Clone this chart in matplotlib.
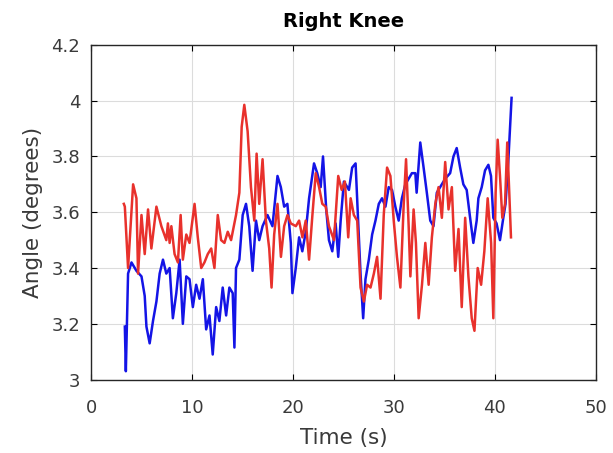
import matplotlib
matplotlib.use("Agg")
import matplotlib.pyplot as plt

# right knee angle traces
blue_t = [3.32, 3.42, 3.64, 3.98, 4.47, 4.97, 5.29, 5.46, 5.78, 6.11, 6.45, 6.77,
          7.10, 7.43, 7.76, 8.08, 8.42, 8.75, 9.07, 9.41, 9.73, 10.06, 10.39, 10.72,
          11.05, 11.38, 11.71, 12.03, 12.37, 12.69, 13.02, 13.36, 13.68, 14.01, 14.18,
          14.34, 14.67, 15.00, 15.33, 15.65, 15.98, 16.32, 16.64, 16.97, 17.46, 17.95,
          18.45, 18.78, 19.11, 19.43, 19.77, 19.93, 20.26, 20.59, 20.91, 21.25, 21.58,
          22.07, 22.39, 22.73, 22.96, 23.28, 23.55, 23.88, 24.21, 24.47, 24.71, 25.03,
          25.53, 25.85, 26.19, 26.44, 26.68, 26.94, 27.17, 27.50, 27.83, 28.16, 28.49,
          28.81, 29.15, 29.47, 29.80, 30.13, 30.46, 30.78, 31.12, 31.45, 31.77, 32.11,
          32.24, 32.60, 32.93, 33.25, 33.59, 33.91, 34.24, 34.57, 35.07, 35.56, 35.89,
          36.21, 36.55, 36.87, 37.20, 37.54, 37.86, 38.19, 38.36, 38.69, 39.02, 39.35,
          39.61, 39.84, 40.16, 40.50, 40.83, 41.05, 41.32, 41.65]
blue_v = [3.19, 3.03, 3.38, 3.42, 3.39, 3.37, 3.30, 3.19, 3.13, 3.21, 3.28, 3.38,
          3.43, 3.38, 3.40, 3.22, 3.31, 3.43, 3.20, 3.37, 3.36, 3.26, 3.34, 3.29,
          3.36, 3.18, 3.23, 3.09, 3.26, 3.21, 3.33, 3.23, 3.33, 3.31, 3.115,
          3.40, 3.43, 3.59, 3.63, 3.55, 3.39, 3.57, 3.50, 3.55, 3.59, 3.55,
          3.73, 3.69, 3.62, 3.63, 3.49, 3.31, 3.40, 3.51, 3.46, 3.53, 3.65,
          3.775, 3.74, 3.69, 3.80, 3.61, 3.50, 3.46, 3.56, 3.44, 3.57, 3.71,
          3.68, 3.76, 3.775, 3.57, 3.38, 3.22, 3.36, 3.43, 3.52, 3.57, 3.63,
          3.65, 3.62, 3.69, 3.68, 3.62, 3.57, 3.65, 3.70, 3.72, 3.74, 3.74,
          3.67, 3.85, 3.76, 3.67, 3.57, 3.55, 3.67, 3.69, 3.72, 3.74, 3.80,
          3.83, 3.76, 3.70, 3.68, 3.58, 3.49, 3.57, 3.65, 3.69, 3.75, 3.77,
          3.73, 3.58, 3.56, 3.50, 3.58, 3.63, 3.78, 4.01]

red_t = [3.22, 3.32, 3.64, 4.14, 4.47, 4.63, 4.97, 5.29, 5.62, 5.95, 6.45, 6.94,
         7.43, 7.59, 7.76, 7.93, 8.25, 8.58, 8.85, 9.07, 9.41, 9.73, 10.23, 10.55,
         10.89, 11.21, 11.54, 11.88, 12.20, 12.53, 12.86, 13.19, 13.52, 13.85, 14.34,
         14.67, 14.90, 15.16, 15.49, 15.82, 16.15, 16.38, 16.64, 16.97, 17.30, 17.63,
         17.86, 18.12, 18.45, 18.79, 19.11, 19.44, 19.77, 20.27, 20.59, 20.92, 21.25,
         21.58, 21.91, 22.24, 22.57, 22.89, 23.23, 23.55, 24.05, 24.47, 24.81, 25.13,
         25.46, 25.70, 26.02, 26.35, 26.68, 27.01, 27.33, 27.67, 28.00, 28.32, 28.66,
         28.98, 29.31, 29.64, 29.97, 30.29, 30.63, 30.96, 31.19, 31.45, 31.62, 31.94,
         32.17, 32.44, 32.77, 33.10, 33.43, 33.75, 34.09, 34.41, 34.74, 35.07, 35.40,
         35.73, 36.06, 36.39, 36.71, 37.05, 37.37, 37.70, 37.97, 38.29, 38.63, 38.95,
         39.28, 39.62, 39.84, 40.07, 40.27, 40.50, 40.73, 41.00, 41.22, 41.42, 41.59]
red_v = [3.63, 3.62, 3.40, 3.70, 3.65, 3.38, 3.59, 3.45, 3.61, 3.47, 3.62, 3.55,
         3.50, 3.56, 3.49, 3.55, 3.45, 3.42, 3.59, 3.43, 3.52, 3.49, 3.63, 3.51,
         3.40, 3.42, 3.45, 3.47, 3.40, 3.59, 3.50, 3.49, 3.53, 3.50, 3.59,
         3.67, 3.906, 3.985, 3.89, 3.69, 3.57, 3.81, 3.63, 3.79, 3.57, 3.47,
         3.33, 3.52, 3.63, 3.44, 3.55, 3.59, 3.56, 3.55, 3.57, 3.51, 3.57,
         3.43, 3.59, 3.74, 3.69, 3.63, 3.62, 3.55, 3.50, 3.73, 3.68, 3.71,
         3.51, 3.65, 3.59, 3.57, 3.33, 3.28, 3.34, 3.33, 3.38, 3.44, 3.29,
         3.59, 3.76, 3.73, 3.57, 3.44, 3.33, 3.63, 3.79, 3.55, 3.37, 3.61,
         3.49, 3.22, 3.34, 3.49, 3.34, 3.51, 3.63, 3.69, 3.58, 3.78, 3.61,
         3.69, 3.39, 3.54, 3.26, 3.58, 3.37, 3.22, 3.175, 3.40, 3.34, 3.46,
         3.65, 3.49, 3.22, 3.67, 3.86, 3.73, 3.58, 3.63, 3.85, 3.67, 3.51]

x_ticks = [0, 10, 20, 30, 40, 50]
y_ticks = [3, 3.2, 3.4, 3.6, 3.8, 4, 4.2]
y_tick_labels = ["3", "3.2", "3.4", "3.6", "3.8", "4", "4.2"]

plt.rcParams['font.family'] = ['DejaVu Sans']

fig = plt.figure(figsize=(6.13, 4.53), dpi=100)
ax = fig.add_axes([0.149, 0.162, 0.823, 0.739])

ax.plot(blue_t, blue_v, color='#1414e6', lw=1.8)
ax.plot(red_t, red_v, color='#e8312c', lw=1.8)

ax.set_xlim(0, 50)
ax.set_ylim(3, 4.2)
ax.set_xticks(x_ticks)
ax.set_yticks(y_ticks)
ax.set_yticklabels(y_tick_labels)
ax.grid(True, color='#dcdcdc', lw=0.8)
ax.set_axisbelow(True)
ax.tick_params(direction='in', top=True, right=True, length=4, width=0.8,
               labelsize=13, labelcolor='#3a3a3a')
ax.tick_params(axis='x', pad=14)
ax.tick_params(axis='y', pad=8)
for s in ax.spines.values():
    s.set_linewidth(1.0)
    s.set_color('#262626')

ax.set_title("Right Knee", fontsize=14, fontweight='bold', pad=13)
ax.set_xlabel("Time (s)", fontsize=15.5, color='#3a3a3a', labelpad=8)
ax.set_ylabel("Angle (degrees)", fontsize=15.5, color='#3a3a3a', labelpad=6)

fig.savefig("out.png", dpi=100)
